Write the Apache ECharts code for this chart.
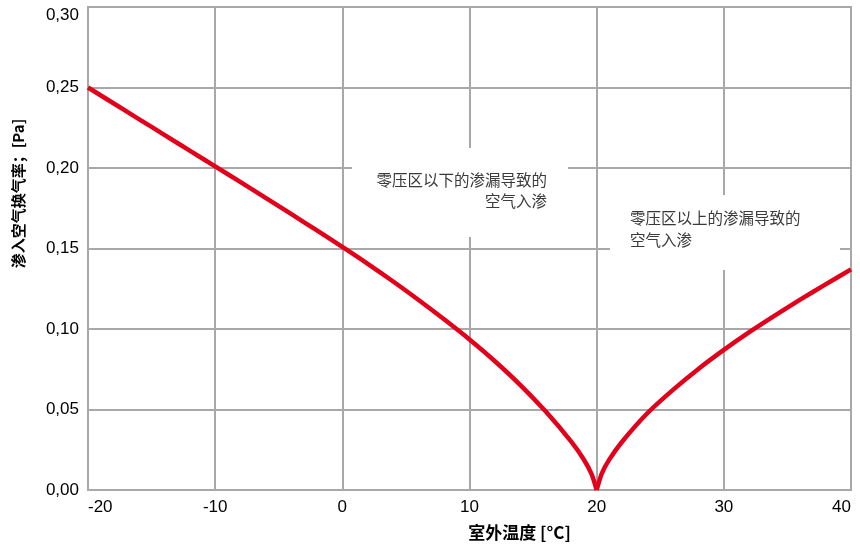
<!DOCTYPE html>
<html><head><meta charset="utf-8">
<script src="https://cdn.jsdelivr.net/npm/echarts@6/dist/echarts.min.js"></script>
<style>html,body{margin:0;padding:0;background:#fff}#c{width:860px;height:547px}</style>
</head><body><div id="c"></div>
<script>
// ---- data ----
const xTicks = [-20, -10, 0, 10, 20, 30, 40];
const yTicks = [0, 0.05, 0.10, 0.15, 0.20, 0.25, 0.30];
const leftTemps  = [-20, -18, -16, -14, -12, -10, -8, -6, -4, -2, 0, 2, 4, 6, 8, 10, 12, 14, 16, 18, 19, 19.6, 20];
const leftValues = [0.2500, 0.2402, 0.2304, 0.2206, 0.2108, 0.2010, 0.1912, 0.1813, 0.1713, 0.1612, 0.1510,
                    0.1405, 0.1295, 0.1180, 0.1060, 0.0935, 0.0800, 0.0652, 0.0487, 0.0300, 0.0188, 0.0098, 0];
const rightTemps  = [20, 20.4, 21, 22, 24, 26, 28, 30, 32, 34, 36, 38, 40];
const rightValues = [0, 0.0102, 0.0190, 0.0300, 0.0478, 0.0622, 0.0752, 0.0870, 0.0980, 0.1083, 0.1182, 0.1277, 0.1370];
const xTitle = '室外温度 [°C]';
const yTitle = '渗入空气换气率；[Pa]';
const noteBelow = ['零压区以下的渗漏导致的', '空气入渗'];
const noteAbove = ['零压区以上的渗漏导致的', '空气入渗'];

const pairs = (xs, ys) => xs.map((x, i) => [x, ys[i]]);
const gridGray = '#a8a8a8';
const red = '#e3001b';
const font = '"Liberation Sans", Arial, sans-serif';
const cjk = '"Noto Sans CJK SC", "Noto Sans", sans-serif';
const yMax = yTicks[yTicks.length - 1];

const chart = echarts.init(document.getElementById('c'), null, {renderer: 'canvas'});
chart.setOption({
  animation: false,
  backgroundColor: '#fff',
  grid: {left: 88, right: 9, top: 7, bottom: 57, show: true, borderColor: gridGray, borderWidth: 2, backgroundColor: 'transparent'},
  xAxis: {
    type: 'value', min: xTicks[0], max: xTicks[xTicks.length - 1], interval: 10,
    axisLine: {show: true, lineStyle: {color: gridGray, width: 2}},
    axisTick: {show: false},
    splitLine: {show: true, lineStyle: {color: gridGray, width: 2}},
    axisLabel: {color: '#000', fontSize: 17, fontFamily: font, margin: 9,
      alignMinLabel: 'left', alignMaxLabel: 'right'},
    name: xTitle, nameLocation: 'middle', nameGap: 34,
    nameTextStyle: {color: '#000', fontSize: 17, fontWeight: 'bold', fontFamily: cjk, padding: [0, 0, 0, 100]}
  },
  yAxis: {
    type: 'value', min: yTicks[0], max: yMax, interval: 0.05,
    axisLine: {show: true, lineStyle: {color: gridGray, width: 2}},
    axisTick: {show: false},
    splitLine: {show: true, lineStyle: {color: gridGray, width: 2}},
    axisLabel: {color: '#000', fontSize: 17, fontFamily: font, margin: 9,
      formatter: v => {
        const s = v.toFixed(2).replace('.', ',');
        return Math.abs(v - yMax) < 1e-9 ? '{top|' + s + '}' : s;
      },
      rich: {top: {fontSize: 17, fontFamily: font, color: '#000', padding: [16, 0, 0, 0]}}},
    name: yTitle, nameLocation: 'middle', nameGap: 62, nameRotate: 90,
    nameTextStyle: {color: '#000', fontSize: 15, fontWeight: 'bold', fontFamily: cjk, padding: [0, 0, 0, 110]}
  },
  series: [
    {type: 'line', data: pairs(leftTemps, leftValues), smooth: 0.25, showSymbol: false, z: 5,
     lineStyle: {color: red, width: 4.5}},
    {type: 'line', data: pairs(rightTemps, rightValues), smooth: 0.25, showSymbol: false, z: 5,
     lineStyle: {color: red, width: 4.5}}
  ],
  graphic: [
    {type: 'rect', z: 1, shape: {x: 352, y: 148, width: 216, height: 89}, style: {fill: '#fff'}},
    {type: 'text', z: 2, x: 547, y: 170, style: {text: noteBelow.join('\n'), align: 'right', verticalAlign: 'top',
      font: '15.5px ' + cjk, fill: '#3a3a3a', lineHeight: 21}},
    {type: 'rect', z: 1, shape: {x: 610, y: 195, width: 230, height: 75}, style: {fill: '#fff'}},
    {type: 'text', z: 2, x: 630, y: 207, style: {text: noteAbove.join('\n'), align: 'left', verticalAlign: 'top',
      font: '15.5px ' + cjk, fill: '#3a3a3a', lineHeight: 22}}
  ]
});
</script></body></html>
